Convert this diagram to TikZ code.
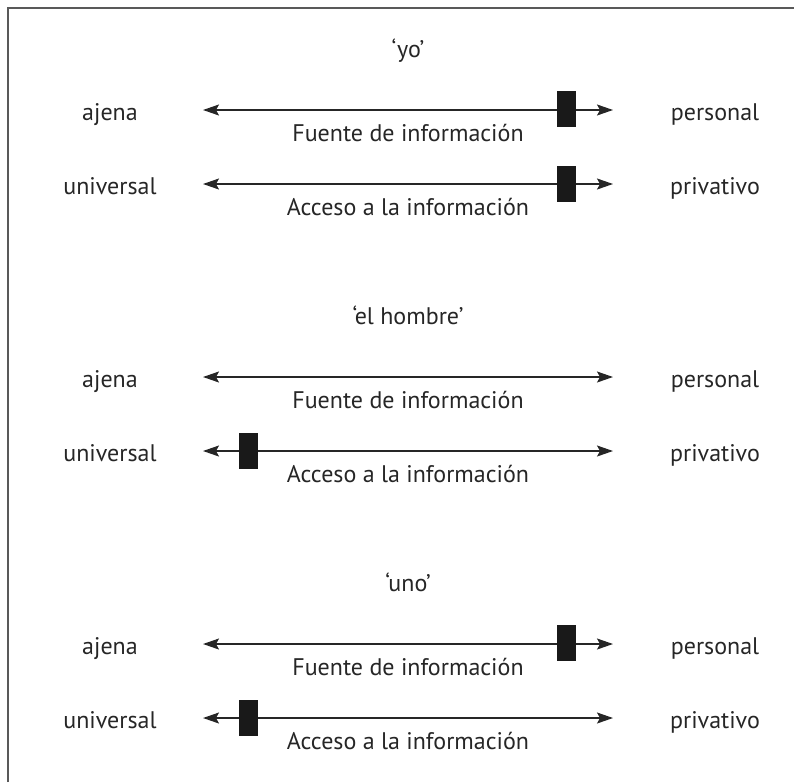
\documentclass[tikz,border=0pt]{standalone}
\usepackage{fontspec}
\setmainfont{PT Sans}
\usetikzlibrary{arrows.meta}
\begin{document}
\begin{tikzpicture}[x=1pt,y=-1pt,
   every node/.style={font=\fontsize{24}{28}\selectfont, text=black!85},
   pole/.style={anchor=base},
   scaleline/.style={{Stealth[length=16pt,width=11pt,inset=3pt]}-{Stealth[length=16pt,width=11pt,inset=3pt]}, line width=1.4pt, black!85},
   slider/.style={fill=black!90, minimum width=19pt, minimum height=36pt, inner sep=0pt}]
   \useasboundingbox (0,0) rectangle (794,782);
   \draw[line width=1.6pt, black!65] (8,782) -- (8,8) -- (794,8);
   % 'yo'
   \node[pole] (yo) at (408,57) {‘yo’};
   \coordinate (yoFl) at (203,110); \coordinate (yoFr) at (613,110);
   \draw[scaleline] (yoFl) -- (yoFr);
   \node[pole] (yoFa) at (110,120) {ajena};
   \node[pole] (yoFp) at (715,120) {personal};
   \node[pole] (yoFt) at (408,141) {Fuente de información};
   \node[slider] (yoFs) at (566.5,109) {};
   \coordinate (yoAl) at (203,184); \coordinate (yoAr) at (613,184);
   \draw[scaleline] (yoAl) -- (yoAr);
   \node[pole] (yoAa) at (110,194) {universal};
   \node[pole] (yoAp) at (715,194) {privativo};
   \node[pole] (yoAt) at (408,215) {Acceso a la información};
   \node[slider] (yoAs) at (566.5,184) {};
   % 'el hombre'
   \node[pole] (hom) at (408,324) {‘el hombre’};
   \coordinate (homFl) at (203,377); \coordinate (homFr) at (613,377);
   \draw[scaleline] (homFl) -- (homFr);
   \node[pole] (homFa) at (110,387) {ajena};
   \node[pole] (homFp) at (715,387) {personal};
   \node[pole] (homFt) at (408,408) {Fuente de información};
   \coordinate (homAl) at (203,451); \coordinate (homAr) at (613,451);
   \draw[scaleline] (homAl) -- (homAr);
   \node[pole] (homAa) at (110,461) {universal};
   \node[pole] (homAp) at (715,461) {privativo};
   \node[pole] (homAt) at (408,482) {Acceso a la información};
   \node[slider] (homAs) at (248,451) {};
   % 'uno'
   \node[pole] (uno) at (408,591) {‘uno’};
   \coordinate (unoFl) at (203,644); \coordinate (unoFr) at (613,644);
   \draw[scaleline] (unoFl) -- (unoFr);
   \node[pole] (unoFa) at (110,654) {ajena};
   \node[pole] (unoFp) at (715,654) {personal};
   \node[pole] (unoFt) at (408,675) {Fuente de información};
   \node[slider] (unoFs) at (566.5,643) {};
   \coordinate (unoAl) at (203,718); \coordinate (unoAr) at (613,718);
   \draw[scaleline] (unoAl) -- (unoAr);
   \node[pole] (unoAa) at (110,728) {universal};
   \node[pole] (unoAp) at (715,728) {privativo};
   \node[pole] (unoAt) at (408,749) {Acceso a la información};
   \node[slider] (unoAs) at (248,718) {};
\end{tikzpicture}
\end{document}
